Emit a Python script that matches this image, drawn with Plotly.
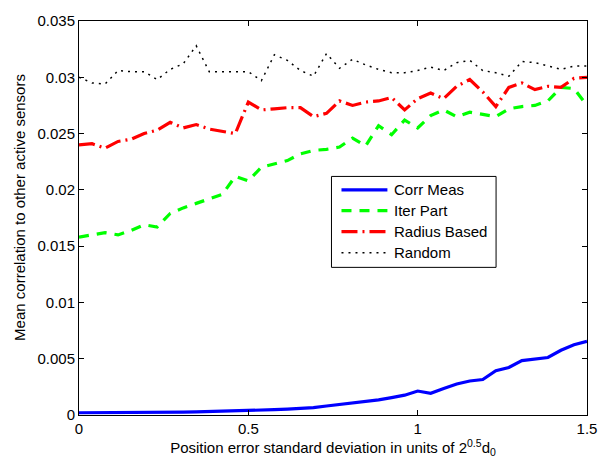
import numpy as np
import plotly.graph_objects as go

# x positions: 40 evenly spaced samples from 0 to 1.5
x_start, x_end, n_points = 0.0, 1.5, 40
x_vals = list(np.linspace(x_start, x_end, n_points))

corr_meas = [0.00020, 0.00020, 0.00021, 0.00021, 0.00022, 0.00023, 0.00024, 0.00025,
             0.00026, 0.00028, 0.00030, 0.00033, 0.00035, 0.00038, 0.00042, 0.00047,
             0.00052, 0.00056, 0.00065, 0.00080, 0.00093, 0.00106, 0.00120, 0.00135,
             0.00155, 0.00176, 0.00213, 0.00193, 0.00236, 0.00275, 0.00302, 0.00315,
             0.00393, 0.00422, 0.00483, 0.00497, 0.00511, 0.00575, 0.00624, 0.00654]

iter_part = [0.0158, 0.0160, 0.0162, 0.0160, 0.0164, 0.0169, 0.0167, 0.0179,
             0.0184, 0.0188, 0.0192, 0.0196, 0.0212, 0.0208, 0.0220, 0.0223,
             0.0226, 0.0232, 0.0235, 0.0236, 0.0238, 0.0246, 0.0239, 0.0257,
             0.0249, 0.0262, 0.0255, 0.0266, 0.0271, 0.0265, 0.0269, 0.0267,
             0.0265, 0.0272, 0.0274, 0.0275, 0.0279, 0.0291, 0.0290, 0.0275]

radius_based = [0.0240, 0.0241, 0.0237, 0.0243, 0.0245, 0.0250, 0.0253, 0.0260,
                0.0255, 0.0258, 0.0254, 0.0252, 0.0250, 0.0278, 0.0271, 0.0272,
                0.0273, 0.0273, 0.0265, 0.0268, 0.0279, 0.0275, 0.0278, 0.0279,
                0.0282, 0.0271, 0.0281, 0.0286, 0.0281, 0.0292, 0.0298, 0.0287,
                0.0274, 0.0291, 0.0295, 0.0289, 0.0292, 0.0291, 0.0299, 0.0300]

random_sel = [0.0300, 0.0295, 0.0294, 0.0306, 0.0305, 0.0305, 0.0298, 0.0307,
              0.0312, 0.0328, 0.0305, 0.0305, 0.0305, 0.0305, 0.0297, 0.0320,
              0.0315, 0.0306, 0.0301, 0.0321, 0.0308, 0.0316, 0.0311, 0.0307,
              0.0304, 0.0304, 0.0306, 0.0309, 0.0306, 0.0313, 0.0315, 0.0306,
              0.0304, 0.0301, 0.0314, 0.0313, 0.0310, 0.0307, 0.0310, 0.0310]

series_names = ["Corr Meas", "Iter Part", "Radius Based", "Random"]
series_colors = ["#0000ff", "#00ff00", "#ff0000", "#000000"]
series_widths = [3.2, 3.2, 3.2, 1.5]
series_dashes = ["solid", "10px,8px", "16px,5px,2px,5px", "2px,5px"]
series_values = [corr_meas, iter_part, radius_based, random_sel]

x_tickvals = [0, 0.5, 1, 1.5]
x_ticktext = ["0", "0.5", "1", "1.5"]
y_tickvals = [0, 0.005, 0.01, 0.015, 0.02, 0.025, 0.03, 0.035]
y_ticktext = ["0", "0.005", "0.01", "0.015", "0.02", "0.025", "0.03", "0.035"]

FONT = "Liberation Sans, Arial, Helvetica, sans-serif"

fig = go.Figure()
for name, vals, col, w, d in zip(series_names, series_values, series_colors,
                                 series_widths, series_dashes):
    fig.add_trace(go.Scatter(x=x_vals, y=vals, mode="lines", name=name,
                             line=dict(color=col, width=w, dash=d), showlegend=False))

# Legend drawn in paper coordinates (box inside the plot area)
box_x0, box_x1, box_y0, box_y1 = 0.497, 0.821, 0.3747, 0.6055
row_y = [0.5715, 0.5186, 0.4653, 0.4119]
sample_x0, sample_x1, text_x = 0.5167, 0.6071, 0.6169

shapes = [dict(type="rect", xref="paper", yref="paper", x0=box_x0, x1=box_x1,
               y0=box_y0, y1=box_y1, line=dict(color="black", width=1),
               fillcolor="white", layer="above")]
annotations = []
for name, col, w, d, ry in zip(series_names, series_colors, series_widths,
                                series_dashes, row_y):
    shapes.append(dict(type="line", xref="paper", yref="paper", x0=sample_x0, x1=sample_x1,
                       y0=ry, y1=ry, line=dict(color=col, width=w, dash=d), layer="above"))
    annotations.append(dict(xref="paper", yref="paper", x=text_x, y=ry, text=name,
                            showarrow=False, xanchor="left", yanchor="middle",
                            font=dict(family=FONT, size=15, color="black")))

annotations.append(dict(xref="paper", yref="paper", x=-0.1159, y=0.526,
                        text="Mean correlation to other active sensors", textangle=-90,
                        showarrow=False, xanchor="center", yanchor="middle",
                        font=dict(family=FONT, size=15, color="black")))

fig.update_layout(
    width=609, height=470,
    margin=dict(l=79, r=21, t=12, b=55),
    paper_bgcolor="white", plot_bgcolor="white",
    font=dict(family=FONT, size=15, color="black"),
    showlegend=False,
    shapes=shapes,
    annotations=annotations,
    xaxis=dict(range=[x_start, x_end], tickvals=x_tickvals, ticktext=x_ticktext,
               showline=True, linecolor="black", linewidth=1, mirror="allticks",
               ticks="inside", ticklen=5, tickcolor="black", showgrid=False, zeroline=False,
               tickfont=dict(family=FONT, size=15),
               title=dict(text="Position error standard deviation in units of 2<sup>0.5</sup>d<sub>0</sub>",
                          font=dict(family=FONT, size=15), standoff=4)),
    yaxis=dict(range=[0, 0.035], tickvals=y_tickvals, ticktext=y_ticktext,
               showline=True, linecolor="black", linewidth=1, mirror="allticks",
               ticks="inside", ticklen=5, tickcolor="black", showgrid=False, zeroline=False,
               tickfont=dict(family=FONT, size=15)),
)

fig.write_html("out.html")
